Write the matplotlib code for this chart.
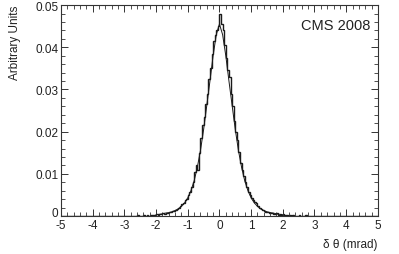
import matplotlib
matplotlib.use("Agg")
import matplotlib.pyplot as plt  # noqa: E402
import numpy as np  # noqa: E402
from matplotlib.ticker import MultipleLocator  # noqa: E402

# bin edges: 200 bins of 0.05 mrad from -5 to 5
bin_edges = np.linspace(-5.0, 5.0, 201)

# bin contents, left tail (-5 .. -2.5)
tail_left = [
    0, 0, 0, 0, 0, 0, 0, 0, 0, 0,
    0, 0, 0, 0, 0, 0, 0, 0, 0, 0,
    0, 0, 0, 0, 0, 0, 0, 0, 0, 0,
    0, 0, 0, 0, 0.0001, 0, 0, 0, 0.0001, 0,
    0, 0.0001, 0, 0.0001, 0, 0.0001, 0.0001, 0, 0.0002, 0.0001,
]
# bin contents, core left (-2.5 .. 0)
core_left = [
    0.0001, 0.0000, 0.0002, 0.0001, 0.0002, 0.0001, 0.0003, 0.0002, 0.0003, 0.0002,
    0.0004, 0.0003, 0.0005, 0.0004, 0.0007, 0.0005, 0.0008, 0.0006, 0.0010, 0.0009,
    0.0012, 0.0011, 0.0015, 0.0017, 0.0020, 0.0024, 0.0028, 0.0031, 0.0037, 0.0041,
    0.0050, 0.0058, 0.0068, 0.0080, 0.0105, 0.0121, 0.0110, 0.0150, 0.0185, 0.0215,
    0.0235, 0.0265, 0.0290, 0.0325, 0.0350, 0.0385, 0.0415, 0.0430, 0.0440, 0.0450,
]
# bin contents, core right (0 .. 2.5)
core_right = [
    0.0480, 0.0455, 0.0440, 0.0405, 0.0375, 0.0345, 0.0330, 0.0290, 0.0260, 0.0225,
    0.0200, 0.0180, 0.0152, 0.0125, 0.0110, 0.0095, 0.0080, 0.0068, 0.0058, 0.0050,
    0.0043, 0.0038, 0.0033, 0.0030, 0.0024, 0.0020, 0.0017, 0.0014, 0.0012, 0.0009,
    0.0010, 0.0007, 0.0006, 0.0008, 0.0005, 0.0004, 0.0006, 0.0003, 0.0004, 0.0002,
    0.0004, 0.0002, 0.0003, 0.0001, 0.0002, 0.0001, 0.0002, 0.0001, 0.0000, 0.0001,
]
# bin contents, right tail (2.5 .. 5)
tail_right = [
    0.0002, 0.0001, 0.0001, 0, 0.0002, 0.0001, 0, 0.0001, 0, 0.0001,
    0, 0.0001, 0, 0, 0.0001, 0, 0, 0, 0, 0,
    0, 0, 0, 0, 0, 0, 0, 0, 0, 0,
    0, 0, 0, 0, 0, 0, 0, 0, 0, 0,
    0, 0, 0, 0, 0, 0, 0, 0, 0, 0,
]
counts = tail_left + core_left + core_right + tail_right

# fitted curve
fit_x = [-2.0, -1.9, -1.8, -1.7, -1.6, -1.5, -1.4, -1.3, -1.2, -1.1, -1.0,
         -0.9, -0.8, -0.7, -0.6, -0.5, -0.4, -0.3, -0.2, -0.1, 0.0,
         0.1, 0.2, 0.3, 0.4, 0.5, 0.6, 0.7, 0.8, 0.9, 1.0,
         1.1, 1.2, 1.3, 1.4, 1.5, 1.6, 1.7, 1.8, 1.9, 2.0]
fit_y = [0.0003, 0.0004, 0.0005, 0.0007, 0.0008, 0.0010, 0.0013, 0.0017, 0.0023, 0.0031, 0.0043,
         0.0060, 0.0083, 0.0115, 0.0155, 0.0205, 0.0262, 0.0320, 0.0380, 0.0430, 0.0455,
         0.0430, 0.0380, 0.0320, 0.0262, 0.0205, 0.0155, 0.0115, 0.0083, 0.0060, 0.0043,
         0.0031, 0.0023, 0.0017, 0.0013, 0.0010, 0.0008, 0.0007, 0.0005, 0.0004, 0.0003]

y_ticks = [0, 0.01, 0.02, 0.03, 0.04, 0.05]
y_tick_labels = ["0", "0.01", "0.02", "0.03", "0.04", "0.05"]

plt.rcParams["font.family"] = ["Liberation Sans", "DejaVu Sans"]
plt.rcParams["axes.unicode_minus"] = False

fig = plt.figure(figsize=(3.99, 2.55), dpi=100)
ax = fig.add_axes([0.153, 0.149, 0.794, 0.827])

ax.stairs(counts, bin_edges, color="#1a1a1a", linewidth=1.0)
ax.plot(fit_x, fit_y, color="#1a1a1a", linewidth=0.7)

ax.set_xlim(-5, 5)
ax.set_ylim(0, 0.05)
ax.xaxis.set_major_locator(MultipleLocator(1))
ax.xaxis.set_minor_locator(MultipleLocator(0.2))
ax.yaxis.set_minor_locator(MultipleLocator(0.002))
ax.set_yticks(y_ticks)
ax.set_yticklabels(y_tick_labels)
# ROOT draws the "0" label sitting on the axis
ax.get_yticklabels()[0].set_va("baseline")

ax.tick_params(which="both", direction="in", top=True, right=True,
               color="#333333", labelsize=8.5, labelcolor="#222222")
ax.tick_params(which="major", length=5, width=0.7, pad=2)
ax.tick_params(which="minor", length=2.6, width=0.6)
for spine in ax.spines.values():
    spine.set_linewidth(0.8)
    spine.set_color("#333333")

ax.set_ylabel("Arbitrary Units", fontsize=8.5, color="#222222", loc="top", labelpad=10)
ax.set_xlabel("δ θ (mrad)", fontsize=8.5, color="#222222", loc="right", labelpad=5)

ax.text(0.975, 0.94, "CMS 2008", transform=ax.transAxes, ha="right", va="top",
        fontsize=10.5, color="#222222")

fig.savefig("out.png", dpi=100)
